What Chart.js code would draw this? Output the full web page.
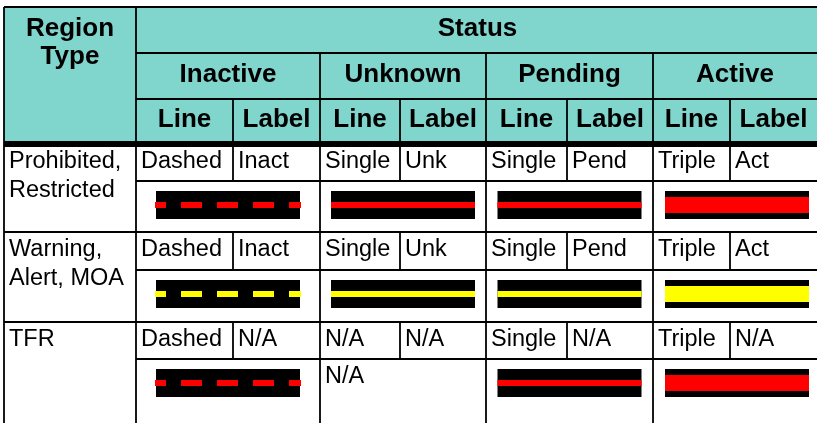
<!DOCTYPE html>
<html>
<head>
<meta charset="utf-8">
<script src="https://cdn.jsdelivr.net/npm/chart.js@4/dist/chart.umd.min.js"></script>
<style>
  html, body { margin: 0; padding: 0; background: #fff; }
  canvas { display: block; }
</style>
</head>
<body>
<canvas id="legendTable" width="817" height="423"></canvas>
<script>
// table content
const regionTypes = [['Prohibited,', 'Restricted'], ['Warning,', 'Alert, MOA'], ['TFR']];
const statuses = ['Inactive', 'Unknown', 'Pending', 'Active'];
const lineTypes = [
    ['Dashed', 'Single', 'Single', 'Triple'],
    ['Dashed', 'Single', 'Single', 'Triple'],
    ['Dashed', 'N/A', 'Single', 'Triple']
];
const lineLabels = [
    ['Inact', 'Unk', 'Pend', 'Act'],
    ['Inact', 'Unk', 'Pend', 'Act'],
    ['N/A', 'N/A', 'N/A', 'N/A']
];
const regionColors = ['#ff0000', '#ffff00', '#ff0000'];

// layout (page units = pixels on the x/y scales)
const colEdges = [4, 136, 233, 320, 400, 486, 567, 653, 730, 821];
const headRows = [7, 53, 99, 144];
const bodyRows = [[144, 181, 232], [232, 270, 322], [322, 359, 430]];
const sampleWidth = 144;
const teal = '#80d5cd';

function statusLeft(j) { return colEdges[1 + j * 2]; }
function statusRight(j) { return colEdges[3 + j * 2]; }

// build datasets for the line samples
const datasets = [];
lineTypes.forEach((row, i) => {
    row.forEach((type, j) => {
        if (type === 'N/A') return;
        const mid = (statusLeft(j) + statusRight(j)) / 2;
        const x0 = mid - sampleWidth / 2, x1 = mid + sampleWidth / 2;
        const yc = bodyRows[i][1] + 24;
        datasets.push({
            data: [{x: x0, y: yc}, {x: x1, y: yc}],
            borderColor: '#000000',
            borderWidth: 28,
            borderCapStyle: 'butt',
            pointRadius: 0,
            order: 1
        });
        const dashed = type === 'Dashed';
        datasets.push({
            data: [{x: dashed ? x0 - 1 : x0, y: yc}, {x: dashed ? x1 + 1 : x1, y: yc}],
            borderColor: regionColors[i],
            borderWidth: type === 'Triple' ? 16 : 6,
            borderCapStyle: 'butt',
            borderDash: dashed ? [21, 15] : [],
            borderDashOffset: dashed ? 10 : 0,
            pointRadius: 0,
            order: 0
        });
    });
});

const tablePlugin = {
    id: 'tableGrid',
    beforeDatasetsDraw(chart) {
        const ctx = chart.ctx;
        const sx = chart.scales.x, sy = chart.scales.y;
        const X = v => sx.getPixelForValue(v);
        const Y = v => sy.getPixelForValue(v);
        const right = 830;
        ctx.save();

        // header fill
        ctx.fillStyle = teal;
        ctx.fillRect(X(colEdges[0]), Y(headRows[0]), X(right) - X(colEdges[0]), Y(headRows[3]) - Y(headRows[0]));

        ctx.strokeStyle = '#000';
        const line = (xa, ya, xb, yb, w) => {
            ctx.lineWidth = w || 1.8;
            ctx.beginPath();
            ctx.moveTo(X(xa), Y(ya));
            ctx.lineTo(X(xb), Y(yb));
            ctx.stroke();
        };

        // outer + header lines
        line(colEdges[0], headRows[0], right, headRows[0]);
        line(colEdges[0], headRows[0], colEdges[0], 430);
        line(colEdges[1], headRows[0], colEdges[1], 430);
        line(colEdges[1], headRows[1], right, headRows[1]);
        line(colEdges[1], headRows[2], right, headRows[2]);
        for (let j = 1; j < statuses.length; j++) line(statusLeft(j), headRows[1], statusLeft(j), 430);
        for (let j = 0; j < statuses.length; j++) line(colEdges[2 + j * 2], headRows[2], colEdges[2 + j * 2], headRows[3]);

        // body lines
        bodyRows.forEach((r, i) => {
            line(colEdges[1], r[1], right, r[1]);
            line(colEdges[0], r[2], right, r[2]);
            for (let j = 0; j < statuses.length; j++) {
                const xm = colEdges[2 + j * 2];
                line(xm, r[0], xm, r[1]);
            }
        });
        line(colEdges[0], headRows[3], right, headRows[3], 6);

        // header text
        ctx.fillStyle = '#000';
        ctx.font = 'bold 26px "Liberation Sans", Arial, sans-serif';
        ctx.textAlign = 'center';
        ctx.textBaseline = 'alphabetic';
        const rc = (colEdges[0] + colEdges[1]) / 2;
        ctx.fillText('Region', X(rc), Y(36));
        ctx.fillText('Type', X(rc), Y(64));
        ctx.fillText('Status', X((colEdges[1] + 817) / 2 + 1), Y(36));
        statuses.forEach((s, j) => {
            const r = Math.min(statusRight(j), 817);
            ctx.fillText(s, X((statusLeft(j) + r) / 2), Y(82));
            const m = colEdges[2 + j * 2];
            ctx.fillText('Line', X((statusLeft(j) + m) / 2), Y(127));
            ctx.fillText('Label', X((m + r) / 2), Y(127));
        });

        // body text
        ctx.font = '23.5px "Liberation Sans", Arial, sans-serif';
        ctx.textAlign = 'left';
        bodyRows.forEach((r, i) => {
            const base = r[0] + 24;
            regionTypes[i].forEach((t, k) => ctx.fillText(t, X(colEdges[0] + 5), Y(base + k * 28.5)));
            statuses.forEach((s, j) => {
                ctx.fillText(lineTypes[i][j], X(statusLeft(j) + 5), Y(base));
                ctx.fillText(lineLabels[i][j], X(colEdges[2 + j * 2] + 5), Y(base));
                if (lineTypes[i][j] === 'N/A') {
                    ctx.fillText('N/A', X(statusLeft(j) + 5), Y(r[1] + 24));
                }
            });
        });
        ctx.restore();
    }
};

const ctx = document.getElementById('legendTable').getContext('2d');
const tableChart = new Chart(ctx, {
    type: 'line',
    data: { datasets: datasets },
    options: {
        responsive: false,
        animation: false,
        events: [],
        layout: { padding: 0 },
        plugins: {
            legend: { display: false },
            tooltip: { enabled: false }
        },
        scales: {
            x: { type: 'linear', min: 0, max: 817, display: false },
            y: { type: 'linear', min: 0, max: 423, reverse: true, display: false }
        }
    },
    plugins: [tablePlugin]
});
</script>
</body>
</html>
